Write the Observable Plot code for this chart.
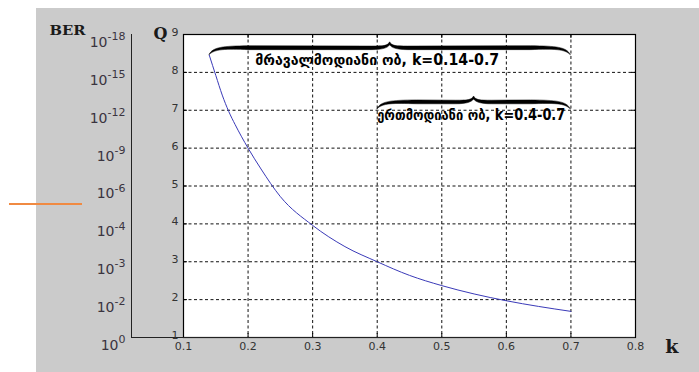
<!DOCTYPE html>
<html>
<head>
<meta charset="utf-8">
<script src="https://cdn.jsdelivr.net/npm/d3@7"></script>
<script src="https://cdn.jsdelivr.net/npm/@observablehq/plot@0.6"></script>
<style>
  html, body { margin: 0; padding: 0; background: #ffffff; }
  #wrap { position: relative; width: 699px; height: 372px; overflow: hidden; }
  #bg { position: absolute; left: 36px; top: 8px; width: 663px; height: 364px; background: #cbcbcb; }
  #orange { position: absolute; left: 9px; top: 203px; width: 73px; height: 2px; background: #f08a42; }
  #chart { position: absolute; left: 0; top: 0; }
</style>
</head>
<body>
<div id="wrap"><div id="bg"></div><div id="orange"></div><div id="chart"></div></div>
<script>
// ---- data ----
const kValues = [0.14, 0.15, 0.16, 0.17, 0.18, 0.20, 0.22, 0.25, 0.30, 0.35, 0.40, 0.45, 0.50, 0.55, 0.60, 0.65, 0.70];
const qValues = [8.45, 7.92, 7.40, 6.97, 6.62, 6.00, 5.45, 4.72, 3.96, 3.40, 3.00, 2.64, 2.37, 2.15, 1.97, 1.82, 1.69];
const kTicks = [0.1, 0.2, 0.3, 0.4, 0.5, 0.6, 0.7, 0.8];
const qTicks = [1, 2, 3, 4, 5, 6, 7, 8, 9];
const berExponents = ["0", "-2", "-3", "-4", "-6", "-9", "-12", "-15", "-18"];
const braceStart = [0.14, 0.4];
const braceEnd = [0.7, 0.7];
const braceQ = [8.45, 7.02];
const braceLabels = ["მრავალმოდიანი ობ, k=0.14-0.7", "ერთმოდიანი ობ, k=0.4-0.7"];
const labelK = [0.211, 0.4];
const labelQ = [8.31, 6.88];

const curve = kValues.map((k, i) => ({k, q: qValues[i]}));
const berRows = qTicks.map((q, i) => ({q, t: "10|" + berExponents[i]}));
const braces = braceStart.map((k1, i) => ({k1, k2: braceEnd[i], q: braceQ[i]}));
const labels = braceLabels.map((text, i) => ({text, k: labelK[i], q: labelQ[i]}));
const labelWidths = [244, 188];

// brace render function, positioned through the plot's scales
function braceMark(...args) {
  const s = args.find(a => a && typeof a.x === "function" && typeof a.y === "function");
  const g = d3.create("svg:g");
  for (const d of braces) {
    const x1 = s.x(d.k1), x2 = s.x(d.k2), yE = s.y(d.q);
    const xm = (x1 + x2) / 2;
    const yB = yE - 7, yP = yE - 13, th = 1.8;
    const p = `M${x1},${yE}
      C${x1+4},${yB-1} ${x1+14},${yB-th} ${x1+40},${yB-th-0.3}
      L${xm-18},${yB-th}
      C${xm-6},${yB-th} ${xm-2},${yB-2} ${xm},${yP}
      C${xm+2},${yB-2} ${xm+6},${yB-th} ${xm+18},${yB-th}
      L${x2-40},${yB-th-0.3}
      C${x2-14},${yB-th} ${x2-4},${yB-1} ${x2},${yE}
      C${x2-6},${yB+1} ${x2-16},${yB+th*0.6} ${x2-40},${yB+th}
      L${xm+18},${yB+th}
      C${xm+7},${yB+th} ${xm+2},${yB} ${xm},${yP+3}
      C${xm-2},${yB} ${xm-7},${yB+th} ${xm-18},${yB+th}
      L${x1+40},${yB+th}
      C${x1+16},${yB+th*0.6} ${x1+6},${yB+1} ${x1},${yE} Z`;
    g.append("path").attr("d", p).attr("fill", "#000").attr("stroke", "#000").attr("stroke-width", 0.5).attr("stroke-linejoin", "round");
  }
  return g.node();
}

const tickFont = "DejaVu Sans, Arial, sans-serif";
const serif = "DejaVu Serif, Liberation Serif, serif";

const chart = Plot.plot({
  width: 699,
  height: 372,
  marginLeft: 183,
  marginRight: 64,
  marginTop: 34,
  marginBottom: 35,
  style: {background: "transparent", overflow: "visible"},
  x: {domain: [0.1, 0.8], ticks: kTicks},
  y: {domain: [1, 9], ticks: qTicks},
  marks: [
    Plot.frame({fill: "#ffffff", stroke: null}),
    Plot.gridX(kTicks.slice(1, -1), {stroke: "#111", strokeOpacity: 1, strokeDasharray: "3,2.5"}),
    Plot.gridY(qTicks.slice(1, -1), {stroke: "#111", strokeOpacity: 1, strokeDasharray: "3,2.5"}),
    // inward tick marks
    Plot.ruleX(kTicks, {stroke: "#000", insetTop: 299}),
    Plot.ruleX(kTicks, {stroke: "#000", insetBottom: 299}),
    Plot.ruleY(qTicks, {stroke: "#000", insetRight: 448}),
    Plot.ruleY(qTicks, {stroke: "#000", insetLeft: 448}),
    Plot.frame({stroke: "#000", strokeWidth: 1.2}),
    // BER auxiliary axis line
    Plot.ruleX([0.1], {stroke: "#222", dx: -52}),
    Plot.ruleY([1], {stroke: "#222", insetLeft: -52}),
    Plot.axisX({ticks: kTicks, tickSize: 0, tickPadding: 5, tickFormat: d3.format(".1f"), fontSize: 11, fontFamily: tickFont, fill: "#333", label: null}),
    Plot.axisY({ticks: qTicks, tickSize: 0, tickPadding: 5, dy: -2, fontSize: 11, fontFamily: tickFont, fill: "#333", label: null}),
    Plot.text(berRows, {frameAnchor: "left", y: "q", text: "t", dx: -58, dy: 8, textAnchor: "end", fontSize: 14, fontFamily: tickFont, fill: "#3a3440"}),
    Plot.line(curve, {x: "k", y: "q", stroke: "#3a3ab8", strokeWidth: 1, curve: "monotone-x"}),
    braceMark,
    Plot.text(labels, {x: "k", y: "q", text: "text", textAnchor: "start", fontSize: 15, fontWeight: "bold", fontFamily: "DejaVu Sans Condensed, DejaVu Sans, sans-serif", fill: "#000"}),
    Plot.text(["BER"], {frameAnchor: "top-left", dx: -134, dy: -9, textAnchor: "start", fontSize: 13.5, fontWeight: "bold", fontFamily: serif, fill: "#1a1a1a"}),
    Plot.text(["Q"], {frameAnchor: "top-left", dx: -30, dy: -7, fontSize: 16, fontWeight: "bold", fontFamily: serif, fill: "#1a1a1a"}),
    Plot.text(["k"], {frameAnchor: "bottom-right", dx: 43, dy: 15, fontSize: 19, fontWeight: "bold", fontFamily: serif, fill: "#1a1a1a"})
  ]
});

const ns = "http://www.w3.org/2000/svg";
chart.querySelectorAll("text").forEach(t => {
  // BER exponents as superscripts
  if (t.textContent.includes("|")) {
    const [b, e] = t.textContent.split("|");
    t.textContent = "";
    const tb = document.createElementNS(ns, "tspan");
    tb.textContent = b;
    const te = document.createElementNS(ns, "tspan");
    te.textContent = e;
    te.setAttribute("dy", "-0.62em");
    te.setAttribute("font-size", "11");
    t.appendChild(tb);
    t.appendChild(te);
  }
  // fit the annotation texts to the width of the reference
  const li = braceLabels.indexOf(t.textContent);
  if (li >= 0) {
    t.setAttribute("textLength", labelWidths[li]);
    t.setAttribute("lengthAdjust", "spacingAndGlyphs");
  }
  if (t.textContent === "BER") {
    t.setAttribute("textLength", 36);
    t.setAttribute("lengthAdjust", "spacingAndGlyphs");
  }
});

document.getElementById("chart").appendChild(chart);
</script>
</body>
</html>
